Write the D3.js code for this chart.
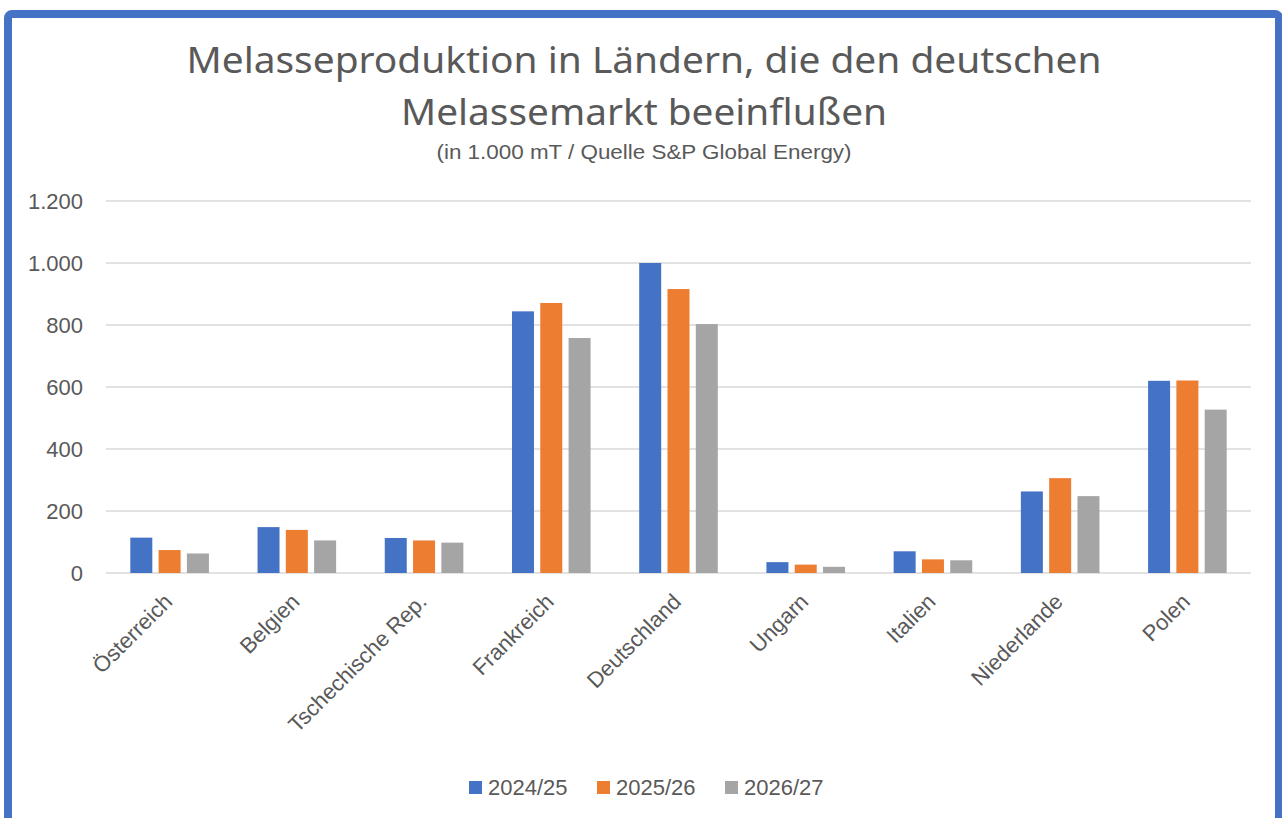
<!DOCTYPE html>
<html>
<head>
<meta charset="utf-8">
<script src="https://cdn.jsdelivr.net/npm/d3@7"></script>
<style>
  body { margin: 0; background: #fff; }
  svg { display: block; }
</style>
</head>
<body>
<div id="chart"></div>
<script>
const countries = ["Österreich", "Belgien", "Tschechische Rep.", "Frankreich", "Deutschland", "Ungarn", "Italien", "Niederlande", "Polen"]
const seasons = ["2024/25", "2025/26", "2026/27"]
const v2024 = [114, 148, 113, 844, 1000, 35, 70, 263, 620]
const v2025 = [74, 139, 105, 871, 916, 27, 44, 306, 621]
const v2026 = [63, 105, 98, 758, 803, 20, 41, 248, 527]
const yTicks = [0, 200, 400, 600, 800, 1000, 1200]
const colors = ["#4472C4", "#ED7D31", "#A5A5A5"]

const W = 1282, H = 818
const textColor = "#595959"
const titleFont = "'Noto Sans', 'Open Sans', sans-serif"
const font = "'Liberation Sans', Arial, sans-serif"

var svg = d3.select("#chart").append("svg")
    .attr("width", W)
    .attr("height", H)

// frame
svg.append("rect")
    .attr("x", 8).attr("y", 14)
    .attr("width", 1271).attr("height", 820)
    .attr("rx", 4)
    .attr("fill", "#fff")
    .attr("stroke", "#4472C4")
    .attr("stroke-width", 8)

// titles
svg.append("text")
    .attr("x", 644).attr("y", 73)
    .attr("text-anchor", "middle")
    .attr("textLength", 915).attr("lengthAdjust", "spacingAndGlyphs")
    .style("font-family", titleFont).style("font-size", "36px").style("fill", textColor)
    .text("Melasseproduktion in Ländern, die den deutschen")
svg.append("text")
    .attr("x", 644).attr("y", 125)
    .attr("text-anchor", "middle")
    .attr("textLength", 486).attr("lengthAdjust", "spacingAndGlyphs")
    .style("font-family", titleFont).style("font-size", "36px").style("fill", textColor)
    .text("Melassemarkt beeinflußen")
svg.append("text")
    .attr("x", 644).attr("y", 159)
    .attr("text-anchor", "middle")
    .attr("textLength", 415).attr("lengthAdjust", "spacingAndGlyphs")
    .style("font-family", font).style("font-size", "20px").style("fill", textColor)
    .text("(in 1.000 mT / Quelle S&P Global Energy)")

var plotLeft = 106, plotRight = 1251, plotTop = 201, plotBottom = 573

var x = d3.scaleBand().domain(countries).range([plotLeft, plotRight]).padding(0)
var y = d3.scaleLinear().domain([0, 1200]).range([plotBottom, plotTop])

var fmt = d3.formatLocale({decimal: ",", thousands: ".", grouping: [3], currency: ["", "€"]}).format(",")

// grid
svg.append("g")
    .selectAll("line")
    .data(yTicks)
    .enter().append("line")
    .attr("x1", plotLeft).attr("x2", plotRight)
    .attr("y1", d => y(d)).attr("y2", d => y(d))
    .attr("stroke", "#D9D9D9")
    .attr("stroke-width", 1.5)

// y labels
svg.append("g")
    .selectAll("text")
    .data(yTicks)
    .enter().append("text")
    .attr("x", 83)
    .attr("y", d => y(d))
    .attr("dy", "0.35em")
    .attr("text-anchor", "end")
    .style("font-family", font).style("font-size", "22px").style("fill", textColor)
    .text(d => fmt(d))

// bars
var series = [v2024, v2025, v2026]
var barW = 22, step = 28.3
series.forEach(function(vals, si) {
    svg.append("g")
        .selectAll("rect")
        .data(vals)
        .enter().append("rect")
        .attr("x", (d, i) => x(countries[i]) + x.bandwidth() / 2 + (si - 1) * step - barW / 2)
        .attr("y", d => y(d))
        .attr("width", barW)
        .attr("height", d => y(0) - y(d))
        .attr("fill", colors[si])
})

// x labels
svg.append("g")
    .selectAll("text")
    .data(countries)
    .enter().append("text")
    .attr("transform", d => "translate(" + (x(d) + x.bandwidth() / 2 + 4) + ",603) rotate(-45)")
    .attr("text-anchor", "end")
    .style("font-family", font).style("font-size", "22px").style("fill", textColor)
    .text(d => d)

// legend
var legX = [469, 597, 725]
var leg = svg.append("g")
seasons.forEach(function(s, i) {
    leg.append("rect")
        .attr("x", legX[i]).attr("y", 781)
        .attr("width", 13).attr("height", 13)
        .attr("fill", colors[i])
    leg.append("text")
        .attr("x", legX[i] + 19).attr("y", 795)
        .style("font-family", font).style("font-size", "22px").style("fill", textColor)
        .text(s)
})
</script>
</body>
</html>
